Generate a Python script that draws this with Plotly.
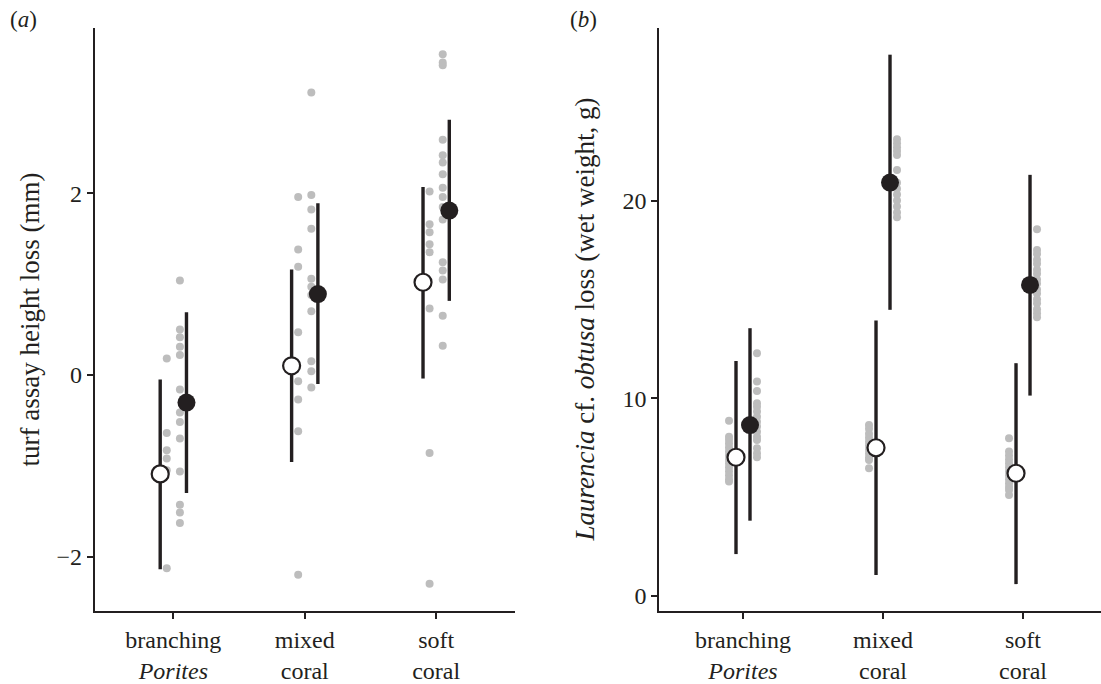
import plotly.graph_objects as go

# ---------------- data ----------------
categories = ["branching<br><i>Porites</i>", "mixed<br>coral", "soft<br>coral"]
cat_pos = [1, 2, 3]

# Panel (a): turf assay height loss (mm)
a_open_mean = [-1.09, 0.10, 1.02]
a_open_lo = [-2.14, -0.96, -0.04]
a_open_hi = [-0.05, 1.16, 2.07]
a_fill_mean = [-0.305, 0.89, 1.81]
a_fill_lo = [-1.30, -0.10, 0.815]
a_fill_hi = [0.69, 1.89, 2.81]

a_open_pts = [
    [0.18, -0.64, -0.83, -0.92, -1.05, -2.13],
    [1.96, 1.38, 1.19, 0.47, -0.07, -0.27, -0.62, -2.20],
    [2.02, 1.66, 1.57, 1.44, 1.35, 0.73, -0.86, -2.30],
]
a_fill_pts = [
    [1.04, 0.50, 0.415, 0.31, 0.22, -0.16, -0.415, -0.52, -0.70, -1.065, -1.43, -1.515, -1.63],
    [3.11, 1.98, 1.82, 1.61, 1.06, 0.97, 0.88, 0.70, 0.15, 0.04, -0.14],
    [3.53, 3.44, 3.41, 2.59, 2.42, 2.34, 2.21, 2.06, 1.96, 1.85, 1.71, 1.24, 1.15, 1.05, 0.65, 0.32],
]

# Panel (b): Laurencia cf. obtusa loss (wet weight, g)
b_open_mean = [7.01, 7.49, 6.20]
b_open_lo = [2.11, 1.05, 0.59]
b_open_hi = [11.88, 13.93, 11.77]
b_fill_mean = [8.64, 20.91, 15.73]
b_fill_lo = [3.80, 14.47, 10.13]
b_fill_hi = [13.54, 27.38, 21.30]

b_open_pts = [
    [8.86, 8.05, 7.9, 7.7, 7.5, 7.3, 7.1, 6.9, 6.7, 6.5, 6.3, 6.1, 5.9, 5.78],
    [8.64, 8.45, 8.2, 8.0, 7.8, 7.6, 7.4, 7.2, 7.0, 6.87, 6.45],
    [7.97, 7.3, 7.1, 6.9, 6.7, 6.5, 6.3, 6.1, 5.9, 5.7, 5.5, 5.35, 5.1],
]
b_fill_pts = [
    [12.27, 10.84, 10.36, 9.74, 9.57, 9.32, 9.06, 8.8, 8.56, 8.30, 8.05, 7.88, 7.46, 7.21, 7.01],
    [23.1, 22.9, 22.7, 22.5, 22.3, 21.55, 20.9, 20.6, 20.3, 20.0, 19.7, 19.4, 19.16],
    [18.55, 17.5, 17.3, 17.0, 16.8, 16.5, 16.3, 16.0, 15.8, 15.5, 15.3, 15.0, 14.8, 14.5, 14.3, 14.1],
]

a_yticks = [-2, 0, 2]
b_yticks = [0, 10, 20]

# ---------------- style ----------------
INK = "#231f20"
GREY = "#bdbdbd"
FONT = "Liberation Serif"
W, H = 1101, 684

fig = go.Figure()


def add_panel(xa, ya, open_pts, fill_pts, om, olo, ohi, fm, flo, fhi, mean_off, pt_off):
    # raw points
    for group, off in ((open_pts, -pt_off), (fill_pts, pt_off)):
        xs, ys = [], []
        for c, vals in zip(cat_pos, group):
            xs += [c + off] * len(vals)
            ys += vals
        fig.add_trace(go.Scatter(x=xs, y=ys, mode="markers", xaxis=xa, yaxis=ya,
                                 marker=dict(size=8, color=GREY, line=dict(width=0)),
                                 showlegend=False, hoverinfo="skip"))
    # means with intervals
    for m, lo, hi, off, filled in ((om, olo, ohi, -mean_off, False), (fm, flo, fhi, mean_off, True)):
        fig.add_trace(go.Scatter(
            x=[c + off for c in cat_pos], y=m, mode="markers", xaxis=xa, yaxis=ya,
            error_y=dict(type="data", symmetric=False,
                         array=[h - v for h, v in zip(hi, m)],
                         arrayminus=[v - l for l, v in zip(lo, m)],
                         thickness=3.4, width=0, color=INK),
            marker=dict(size=17 if not filled else 18,
                        color=INK if filled else "white",
                        line=dict(width=2.2 if not filled else 0, color=INK)),
            showlegend=False))


add_panel("x", "y", a_open_pts, a_fill_pts, a_open_mean, a_open_lo, a_open_hi,
          a_fill_mean, a_fill_lo, a_fill_hi, mean_off=0.1, pt_off=0.05)
add_panel("x2", "y2", b_open_pts, b_fill_pts, b_open_mean, b_open_lo, b_open_hi,
          b_fill_mean, b_fill_lo, b_fill_hi, mean_off=0.05, pt_off=0.1)

ydom = [1 - 611 / H, 1 - 28 / H]
common_x = dict(showline=True, linecolor=INK, linewidth=1.5, ticks="outside", ticklen=6,
                tickwidth=1.5, tickcolor=INK, showgrid=False, zeroline=False,
                tickmode="array", tickvals=cat_pos, ticktext=categories,
                tickfont=dict(family=FONT, size=24, color=INK))
common_y = dict(showline=True, linecolor=INK, linewidth=1.5, ticks="outside", ticklen=6,
                tickwidth=1.5, tickcolor=INK, showgrid=False, zeroline=False,
                tickmode="array", tickfont=dict(family=FONT, size=24, color=INK))

fig.update_layout(
    width=W, height=H,
    margin=dict(l=0, r=0, t=0, b=0),
    paper_bgcolor="white", plot_bgcolor="white",
    font=dict(family=FONT, color=INK),
    xaxis=dict(domain=[94.5 / W, 515 / W], range=[0.4, 3.6], anchor="y", **common_x),
    yaxis=dict(domain=ydom, range=[-2.6, 3.82], anchor="x",
               tickvals=a_yticks, ticktext=["\u22122", "0", "2"], **common_y),
    xaxis2=dict(domain=[659 / W, 1.0], range=[0.4, 3.557], anchor="y2", **common_x),
    yaxis2=dict(domain=ydom, range=[-0.77, 28.73], anchor="x2",
                tickvals=b_yticks, ticktext=[str(v) for v in b_yticks], **common_y),
    annotations=[
        dict(text="(<i>a</i>)", x=8 / W, y=1 - 20 / H, xref="paper", yref="paper",
             xanchor="left", yanchor="middle", showarrow=False,
             font=dict(family=FONT, size=23, color=INK)),
        dict(text="(<i>b</i>)", x=568 / W, y=1 - 20 / H, xref="paper", yref="paper",
             xanchor="left", yanchor="middle", showarrow=False,
             font=dict(family=FONT, size=23, color=INK)),
        dict(text="turf assay height loss (mm)", x=30 / W, y=1 - 319.5 / H,
             xref="paper", yref="paper", xanchor="center", yanchor="middle",
             textangle=-90, showarrow=False,
             font=dict(family=FONT, size=27, color=INK)),
        dict(text="<i>Laurencia</i> cf. <i>obtusa</i> loss (wet weight, g)",
             x=585 / W, y=1 - 319.5 / H, xref="paper", yref="paper",
             xanchor="center", yanchor="middle", textangle=-90, showarrow=False,
             font=dict(family=FONT, size=27, color=INK)),
    ],
)

fig.write_html("out.html",
               config={"displayModeBar": False},
               post_script="document.body.style.margin='0';document.body.style.overflow='hidden';")
